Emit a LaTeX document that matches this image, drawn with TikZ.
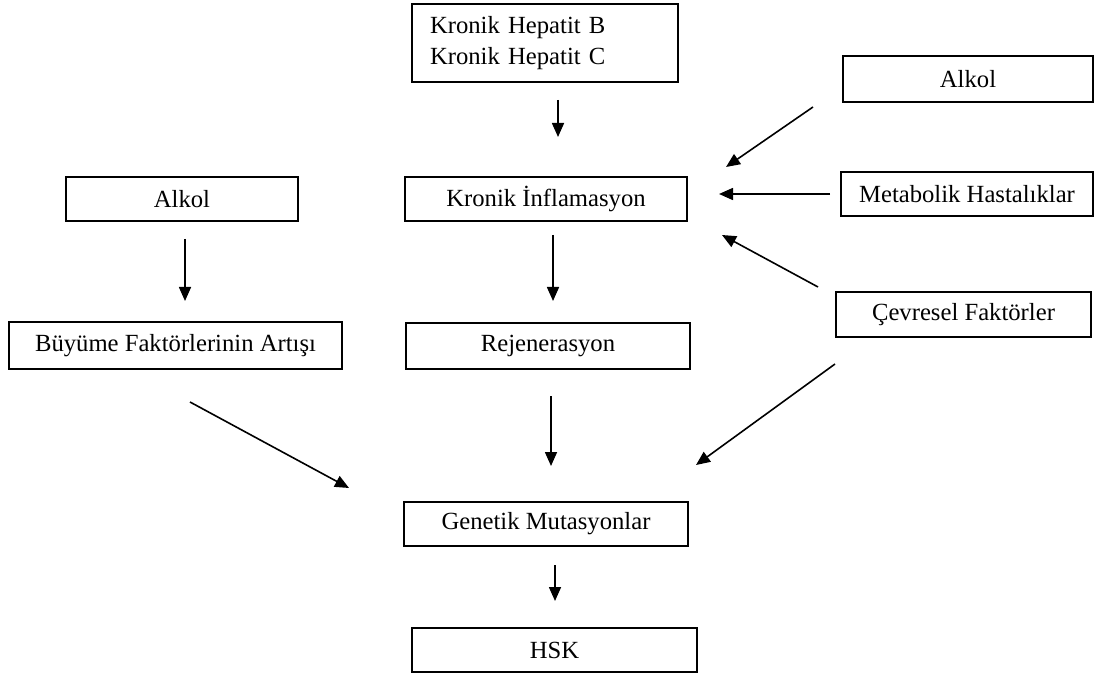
\documentclass[tikz,border=0pt]{standalone}
\usepackage{fontspec}
\setmainfont{Liberation Serif}
\usepackage{tikz}
\tikzset{every picture/.style={line width=0.75pt}}
\usetikzlibrary{arrows.meta}
\tikzset{
  box/.style 2 args={draw, line width=1.1pt, inner sep=0.75pt, align=center,
    minimum width=#1*0.75pt, minimum height=#2*0.75pt,
    font=\fontsize{18.5}{23.5}\selectfont},
  arr/.style={line width=1.2pt, -{Triangle[length=10.5pt,width=9pt]}}
}

\begin{document}
\begin{tikzpicture}[x=0.75pt,y=0.75pt,yscale=-1]
\useasboundingbox (0,0) rectangle (1094,673);

%Boxes
\node (hepatit) at (545,43) [box={266}{78}, text width=230*0.75pt, align=left, inner xsep=13.5pt] {Kronik Hepatit B\\Kronik Hepatit C};
\node (inflam) at (546,199) [box={282}{44}] {Kronik İnflamasyon};
\node (alkolsag) at (968,79) [box={250}{46}] {Alkol};
\node (metabolik) at (967,194) [box={252}{44}] {Metabolik Hastalıklar};
\node (cevresel) at (963.5,314.5) [box={255}{45}] {Çevresel Faktörler};
\node (alkolsol) at (182,199) [box={232}{44}] {Alkol};
\node (buyume) at (175.5,345.5) [box={333}{47}] {Büyüme Faktörlerinin Artışı};
\node (rejen) at (548,346) [box={284}{46}] {Rejenerasyon};
\node (genetik) at (546,524) [box={284}{44}] {Genetik Mutasyonlar};
\node (hsk) at (554.5,650) [box={285}{44}] {HSK};

%Arrow ends
\coordinate (h1) at (558,100);  \coordinate (h2) at (558,137);
\coordinate (i1) at (553,235);  \coordinate (i2) at (553,301);
\coordinate (r1) at (551,396);  \coordinate (r2) at (551,466);
\coordinate (g1) at (555,565);  \coordinate (g2) at (555,601);
\coordinate (l1) at (185,239);  \coordinate (l2) at (185,301);
\coordinate (as1) at (813,107); \coordinate (as2) at (726,167);
\coordinate (m1) at (830,194);  \coordinate (m2) at (719,194);
\coordinate (c1) at (818,287);  \coordinate (c2) at (722,235);
\coordinate (c3) at (835,364);  \coordinate (c4) at (696,465);
\coordinate (b1) at (190,402);  \coordinate (b2) at (349,488);

%Arrows
\draw [arr] (h1) -- (h2);
\draw [arr] (i1) -- (i2);
\draw [arr] (r1) -- (r2);
\draw [arr] (g1) -- (g2);
\draw [arr] (l1) -- (l2);
\draw [arr] (as1) -- (as2);
\draw [arr] (m1) -- (m2);
\draw [arr] (c1) -- (c2);
\draw [arr] (c3) -- (c4);
\draw [arr] (b1) -- (b2);
\end{tikzpicture}
\end{document}
